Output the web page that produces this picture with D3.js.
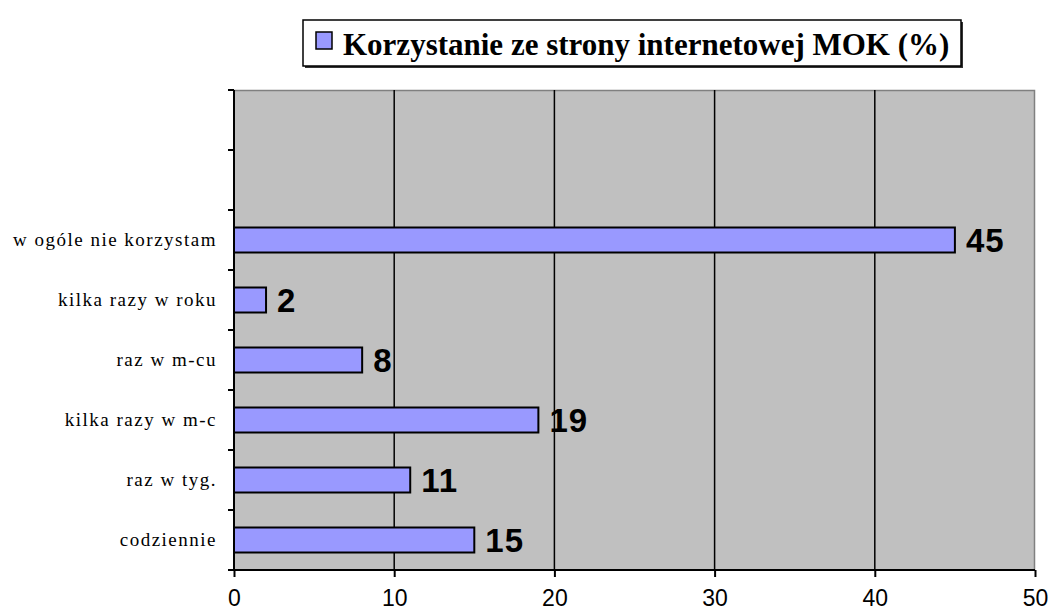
<!DOCTYPE html>
<html>
<head>
<meta charset="utf-8">
<script src="https://cdn.jsdelivr.net/npm/d3@7"></script>
<style>
  body { margin: 0; background: #fff; }
</style>
</head>
<body>
<div id="chart"></div>
<script>
const categories = ['', ' ', 'w ogóle nie korzystam', 'kilka razy w roku', 'raz w m-cu', 'kilka razy w m-c', 'raz w tyg.', 'codziennie']
const values = [null, null, 45, 2, 8, 19, 11, 15]
const xTicks = [0, 10, 20, 30, 40, 50]
const seriesName = 'Korzystanie ze strony internetowej MOK (%)'

const serif = "'Liberation Serif', 'Times New Roman', serif"
const sans = "'Liberation Sans', Arial, sans-serif"

const svgWidth = 1052
const svgHeight = 615
const margin = {top: 90, right: 17, bottom: 45, left: 234}
const width = svgWidth - margin.left - margin.right
const height = svgHeight - margin.top - margin.bottom

const svg = d3.select('#chart').append('svg')
  .attr('width', svgWidth)
  .attr('height', svgHeight)

const g = svg.append('g')
  .attr('transform', 'translate(' + margin.left + ',' + margin.top + ')')

const x = d3.scaleLinear()
  .domain([0, 50])
  .range([0, width])
const y = d3.scaleBand()
  .domain(categories)
  .range([0, height])
  .paddingInner(0.58)
  .paddingOuter(0.29)

// plot background
g.append('rect')
  .attr('width', width)
  .attr('height', height)
  .attr('fill', '#c0c0c0')
g.append('path')
  .attr('d', 'M0,0.5H' + (width - 0.5) + 'V' + height)
  .attr('fill', 'none')
  .attr('stroke', '#808080')
  .attr('stroke-width', 1.5)

// vertical gridlines
g.selectAll('.grid')
  .data(xTicks.slice(1, -1))
  .enter().append('line')
  .attr('x1', d => x(d))
  .attr('x2', d => x(d))
  .attr('y1', 0)
  .attr('y2', height)
  .attr('stroke', '#000')
  .attr('stroke-width', 1.5)

// bars
const rows = categories.map((c, i) => ({cat: c, value: values[i]})).filter(d => d.value !== null)
const step = height / categories.length
const barH = 25

g.selectAll('.bar')
  .data(rows)
  .enter().append('rect')
  .attr('x', x(0))
  .attr('y', d => y(d.cat) + y.bandwidth() / 2 - barH / 2)
  .attr('width', d => x(d.value) - x(0))
  .attr('height', barH)
  .attr('fill', '#9999ff')
  .attr('stroke', '#000')
  .attr('stroke-width', 2)

g.selectAll('.val')
  .data(rows)
  .enter().append('text')
  .attr('x', d => x(d.value) + 11)
  .attr('y', d => y(d.cat) + y.bandwidth() / 2 + 12)
  .attr('font-family', sans)
  .attr('font-weight', 'bold')
  .attr('font-size', 33)
  .attr('letter-spacing', 1)
  .text(d => d.value)

// x axis
const xAxis = g.append('g')
  .attr('transform', 'translate(0,' + height + ')')
  .call(d3.axisBottom(x).tickValues(xTicks).tickSize(7).tickPadding(13))
xAxis.select('.domain').attr('stroke-width', 2).attr('d', 'M0,0H' + width)
xAxis.selectAll('.tick line').attr('stroke-width', 2)
xAxis.selectAll('.tick text')
  .attr('font-family', sans)
  .attr('font-size', 23)
  .attr('fill', '#000')

// y axis
const yTickPos = d3.range(categories.length + 1).map(i => i * step)
const yAxis = g.append('g')
yAxis.append('line')
  .attr('x1', 0).attr('x2', 0)
  .attr('y1', 0).attr('y2', height)
  .attr('stroke', '#000')
  .attr('stroke-width', 2)
yAxis.selectAll('.ytick')
  .data(yTickPos)
  .enter().append('line')
  .attr('x1', -6).attr('x2', 0)
  .attr('y1', d => d).attr('y2', d => d)
  .attr('stroke', '#000')
  .attr('stroke-width', 2)
yAxis.selectAll('.ylabel')
  .data(rows)
  .enter().append('text')
  .attr('x', -17)
  .attr('y', d => y(d.cat) + y.bandwidth() / 2 + 6)
  .attr('text-anchor', 'end')
  .attr('font-family', serif)
  .attr('font-size', 19)
  .attr('letter-spacing', 1.5)
  .attr('fill', '#000')
  .text(d => d.cat)

// legend
const legend = svg.append('g')
legend.append('rect')
  .attr('x', 305).attr('y', 22)
  .attr('width', 658).attr('height', 46)
  .attr('fill', '#333')
legend.append('rect')
  .attr('x', 303).attr('y', 20)
  .attr('width', 658).attr('height', 46)
  .attr('fill', '#fff')
  .attr('stroke', '#000')
  .attr('stroke-width', 1.5)
legend.append('rect')
  .attr('x', 316).attr('y', 32)
  .attr('width', 16).attr('height', 17)
  .attr('fill', '#9999ff')
  .attr('stroke', '#000')
  .attr('stroke-width', 1.5)
legend.append('text')
  .attr('x', 343).attr('y', 55)
  .attr('font-family', serif)
  .attr('font-weight', 'bold')
  .attr('font-size', 31)
  .attr('fill', '#000')
  .text(seriesName)
</script>
</body>
</html>
